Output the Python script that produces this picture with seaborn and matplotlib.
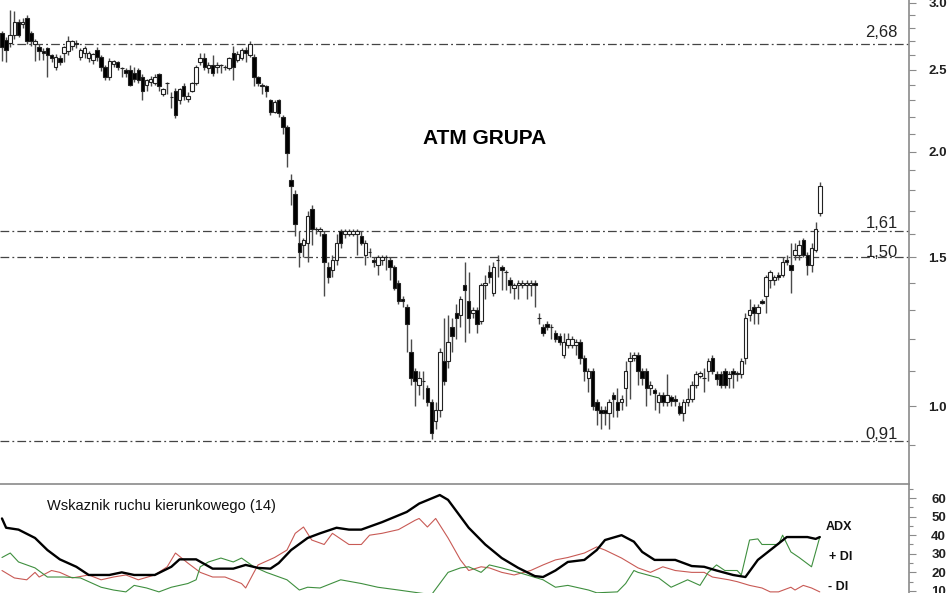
import matplotlib
matplotlib.use("Agg")
import matplotlib.pyplot as plt
from matplotlib.ticker import FixedLocator, NullFormatter, FormatStrFormatter
import numpy as np
import seaborn as sns

# ==============================
# DATA
# ==============================
opens = [2.76, 2.71, 2.69, 2.75, 2.85, 2.83, 2.88, 2.76, 2.68, 2.66,
         2.63, 2.65, 2.60, 2.52, 2.58, 2.62, 2.63, 2.67, 2.69, 2.59,
         2.62, 2.58, 2.57, 2.64, 2.59, 2.52, 2.45, 2.54, 2.55, 2.51,
         2.50, 2.50, 2.48, 2.50, 2.45, 2.40, 2.42, 2.41, 2.47, 2.34,
         2.41, 2.32, 2.36, 2.30, 2.39, 2.31, 2.36, 2.41, 2.55, 2.58,
         2.51, 2.53, 2.52, 2.53, 2.52, 2.51, 2.62, 2.57, 2.58, 2.64,
         2.60, 2.59, 2.45, 2.40, 2.39, 2.30, 2.23, 2.30, 2.20, 2.14,
         1.85, 1.78, 1.56, 1.55, 1.56, 1.71, 1.62, 1.61, 1.60, 1.46,
         1.45, 1.49, 1.61, 1.60, 1.60, 1.60, 1.60, 1.59, 1.51, 1.52,
         1.49, 1.47, 1.49, 1.50, 1.49, 1.46, 1.40, 1.34, 1.31, 1.16,
         1.10, 1.06, 1.07, 1.05, 1.01, 0.96, 0.99, 1.13, 1.13, 1.24,
         1.29, 1.28, 1.39, 1.33, 1.29, 1.30, 1.26, 1.39, 1.44, 1.36,
         1.49, 1.46, 1.44, 1.41, 1.38, 1.39, 1.39, 1.39, 1.39, 1.40,
         1.27, 1.24, 1.25, 1.24, 1.22, 1.21, 1.15, 1.18, 1.18, 1.18,
         1.19, 1.14, 1.08, 1.10, 1.01, 0.99, 0.99, 0.98, 1.03, 1.01,
         1.01, 1.05, 1.13, 1.14, 1.15, 1.10, 1.10, 1.05, 1.045, 1.01,
         1.03, 1.01, 1.025, 1.02, 1.00, 0.98, 1.01, 1.02, 1.06, 1.085,
         1.08, 1.10, 1.14, 1.09, 1.09, 1.10, 1.08, 1.10, 1.09, 1.09,
         1.14, 1.28, 1.31, 1.29, 1.33, 1.35, 1.41, 1.41, 1.43, 1.43,
         1.49, 1.47, 1.51, 1.51, 1.57, 1.51, 1.47, 1.53, 1.69]
highs = [2.78, 2.73, 2.94, 2.93, 2.87, 2.88, 2.90, 2.78, 2.72, 2.68,
         2.65, 2.66, 2.61, 2.61, 2.60, 2.67, 2.74, 2.71, 2.71, 2.65,
         2.67, 2.63, 2.62, 2.66, 2.60, 2.53, 2.58, 2.57, 2.56, 2.52,
         2.51, 2.53, 2.52, 2.51, 2.47, 2.44, 2.46, 2.47, 2.48, 2.38,
         2.42, 2.35, 2.38, 2.38, 2.41, 2.35, 2.42, 2.53, 2.62, 2.62,
         2.55, 2.60, 2.55, 2.54, 2.53, 2.59, 2.67, 2.63, 2.65, 2.66,
         2.70, 2.61, 2.46, 2.41, 2.40, 2.31, 2.30, 2.31, 2.21, 2.15,
         1.88, 1.80, 1.61, 1.58, 1.70, 1.73, 1.63, 1.63, 1.61, 1.48,
         1.51, 1.60, 1.62, 1.62, 1.62, 1.62, 1.62, 1.61, 1.57, 1.54,
         1.50, 1.51, 1.51, 1.51, 1.50, 1.47, 1.41, 1.35, 1.32, 1.20,
         1.11, 1.10, 1.10, 1.06, 1.02, 1.01, 1.17, 1.27, 1.28, 1.27,
         1.32, 1.35, 1.48, 1.44, 1.31, 1.31, 1.40, 1.43, 1.47, 1.48,
         1.51, 1.47, 1.45, 1.42, 1.40, 1.41, 1.41, 1.41, 1.41, 1.41,
         1.29, 1.25, 1.26, 1.25, 1.23, 1.22, 1.22, 1.22, 1.21, 1.20,
         1.20, 1.15, 1.11, 1.11, 1.02, 1.00, 1.00, 1.02, 1.04, 1.05,
         1.03, 1.13, 1.16, 1.16, 1.16, 1.11, 1.11, 1.07, 1.05, 1.04,
         1.04, 1.09, 1.03, 1.03, 1.01, 1.02, 1.05, 1.07, 1.10, 1.10,
         1.11, 1.14, 1.15, 1.10, 1.10, 1.11, 1.10, 1.11, 1.10, 1.14,
         1.29, 1.34, 1.32, 1.32, 1.34, 1.43, 1.45, 1.43, 1.44, 1.50,
         1.51, 1.56, 1.56, 1.57, 1.58, 1.52, 1.56, 1.65, 1.84]
lows = [2.56, 2.55, 2.66, 2.72, 2.73, 2.80, 2.68, 2.67, 2.56, 2.57,
        2.57, 2.45, 2.55, 2.50, 2.53, 2.55, 2.60, 2.64, 2.65, 2.57,
        2.58, 2.55, 2.54, 2.56, 2.49, 2.43, 2.43, 2.52, 2.50, 2.45,
        2.45, 2.39, 2.42, 2.41, 2.30, 2.36, 2.39, 2.40, 2.36, 2.33,
        2.34, 2.25, 2.19, 2.28, 2.30, 2.29, 2.35, 2.40, 2.53, 2.50,
        2.48, 2.46, 2.48, 2.48, 2.50, 2.50, 2.43, 2.55, 2.57, 2.55,
        2.59, 2.39, 2.39, 2.34, 2.32, 2.21, 2.22, 2.20, 2.10, 1.92,
        1.73, 1.59, 1.46, 1.50, 1.48, 1.55, 1.60, 1.59, 1.35, 1.40,
        1.42, 1.47, 1.54, 1.58, 1.59, 1.59, 1.51, 1.55, 1.47, 1.50,
        1.46, 1.43, 1.47, 1.45, 1.41, 1.37, 1.32, 1.31, 1.16, 1.06,
        1.00, 1.03, 1.02, 1.00, 0.915, 0.94, 0.97, 1.06, 1.11, 1.16,
        1.20, 1.24, 1.19, 1.22, 1.27, 1.22, 1.25, 1.34, 1.40, 1.35,
        1.42, 1.37, 1.37, 1.36, 1.34, 1.34, 1.38, 1.34, 1.35, 1.31,
        1.25, 1.21, 1.23, 1.20, 1.19, 1.18, 1.14, 1.17, 1.17, 1.15,
        1.12, 1.07, 1.04, 0.99, 0.95, 0.94, 0.95, 0.94, 0.97, 0.97,
        0.99, 1.00, 1.02, 1.13, 1.06, 1.06, 1.00, 1.03, 0.99, 0.98,
        1.00, 1.00, 1.00, 1.00, 0.975, 0.96, 1.00, 1.01, 1.05, 1.08,
        1.04, 1.07, 1.09, 1.06, 1.05, 1.05, 1.05, 1.05, 1.07, 1.08,
        1.12, 1.26, 1.25, 1.25, 1.32, 1.29, 1.38, 1.39, 1.41, 1.42,
        1.47, 1.36, 1.49, 1.49, 1.50, 1.43, 1.44, 1.52, 1.68]
closes = [2.66, 2.64, 2.75, 2.85, 2.75, 2.85, 2.70, 2.70, 2.70, 2.63,
          2.62, 2.60, 2.58, 2.59, 2.55, 2.66, 2.70, 2.70, 2.68, 2.64,
          2.65, 2.62, 2.61, 2.59, 2.52, 2.45, 2.56, 2.56, 2.52, 2.51,
          2.48, 2.40, 2.44, 2.43, 2.36, 2.43, 2.44, 2.45, 2.39, 2.37,
          2.41, 2.32, 2.21, 2.37, 2.33, 2.33, 2.41, 2.52, 2.58, 2.52,
          2.53, 2.48, 2.53, 2.53, 2.52, 2.58, 2.52, 2.61, 2.64, 2.62,
          2.68, 2.45, 2.41, 2.39, 2.36, 2.23, 2.29, 2.22, 2.14, 1.99,
          1.82, 1.64, 1.52, 1.57, 1.68, 1.62, 1.62, 1.62, 1.48, 1.42,
          1.49, 1.56, 1.56, 1.61, 1.61, 1.61, 1.61, 1.56, 1.56, 1.52,
          1.48, 1.50, 1.50, 1.50, 1.46, 1.38, 1.33, 1.33, 1.25, 1.08,
          1.07, 1.08, 1.07, 1.01, 0.93, 0.99, 1.16, 1.07, 1.19, 1.21,
          1.27, 1.34, 1.37, 1.27, 1.30, 1.25, 1.39, 1.40, 1.42, 1.46,
          1.49, 1.45, 1.44, 1.39, 1.39, 1.40, 1.40, 1.40, 1.40, 1.39,
          1.27, 1.22, 1.24, 1.24, 1.20, 1.19, 1.19, 1.20, 1.20, 1.19,
          1.14, 1.10, 1.10, 1.00, 0.99, 0.98, 0.98, 1.01, 1.02, 0.99,
          1.02, 1.10, 1.14, 1.15, 1.10, 1.08, 1.05, 1.06, 1.035, 1.03,
          1.01, 1.03, 1.015, 1.015, 0.98, 1.01, 1.02, 1.06, 1.09, 1.095,
          1.08, 1.13, 1.10, 1.075, 1.06, 1.06, 1.09, 1.09, 1.095, 1.13,
          1.27, 1.30, 1.29, 1.31, 1.325, 1.42, 1.44, 1.42, 1.42, 1.48,
          1.48, 1.45, 1.53, 1.55, 1.51, 1.47, 1.54, 1.62, 1.82]

levels = [2.68, 1.61, 1.50, 0.91]
level_labels = ["2,68", "1,61", "1,50", "0,91"]

# wskaznik ruchu kierunkowego (14) - punkty odczytane co kilka sesji
adx_idx = [0, 1, 4, 8, 11, 14, 18, 21, 26, 29, 32, 37, 41, 43, 47, 51, 56, 59, 62, 65,
           67, 70, 74, 77, 81, 84, 87, 92, 98, 101, 106, 108, 111, 113, 117, 121, 125, 129, 131, 134,
           137, 141, 144, 146, 150, 153, 155, 158, 163, 167, 170, 173, 177, 180, 183, 187, 190, 195, 197, 198]
adx_vals = [49, 44, 43, 38.5, 32, 27, 23, 18.6, 18.6, 20, 18.6, 18.6, 23, 27, 27, 22, 22, 24, 22.4, 22,
            25, 32, 38.5, 41, 44, 43, 43, 47, 52.5, 57, 61.6, 59, 50, 44, 35, 27.7, 22.4, 18, 17.5, 21,
            25.6, 26.7, 32, 37.4, 40, 36.5, 31, 26.7, 26.7, 23.4, 23, 21, 18.6, 17.5, 26.7, 33.7, 39, 39, 38, 39]
pdi_idx = [0, 2, 4, 8, 11, 15, 19, 24, 27, 30, 32, 35, 38, 41, 45, 47, 48, 50, 53, 56,
           58, 61, 64, 69, 72, 74, 77, 82, 87, 91, 96, 104, 108, 111, 113, 116, 118, 121, 125, 131,
           134, 137, 142, 144, 149, 151, 153, 154, 159, 162, 166, 169, 171, 173, 175, 178, 179, 181, 183, 184,
           188, 189, 191, 193, 196, 198]
pdi_vals = [28, 30.4, 25.6, 22.4, 17.5, 17.5, 17, 12, 10.5, 9.5, 13, 11.6, 9.5, 12, 14, 16, 23, 25.6, 27.7, 25.6,
            27.7, 23, 20, 16, 10.5, 12, 11.6, 16, 14, 12, 10.5, 8, 20, 22.4, 23, 20, 24, 22.4, 20, 16,
            12, 13, 10.5, 9, 9.5, 14, 21, 20, 17, 12, 16, 13, 20, 24, 21, 21, 18.6, 37.4, 38, 35,
            35, 40, 31, 28, 23, 39]
mdi_idx = [0, 3, 6, 8, 9, 12, 14, 17, 21, 24, 27, 30, 33, 37, 40, 42, 45, 48, 51, 54,
           58, 59, 61, 62, 66, 69, 71, 73, 75, 78, 80, 84, 87, 89, 92, 96, 100, 101, 103, 105,
           108, 111, 113, 116, 118, 121, 124, 128, 131, 134, 137, 141, 144, 146, 150, 154, 157, 160, 163, 167,
           170, 172, 176, 178, 181, 184, 186, 188, 191, 192, 194, 196, 198]
mdi_vals = [21, 17, 16, 20, 17.5, 21, 20, 17, 18.6, 16, 17.5, 18.6, 16, 18.6, 23, 30.4, 25, 20, 17.5, 17.5,
            14, 11.6, 20, 24, 28, 32, 41, 44.4, 37.4, 35, 41, 35, 35, 40, 41, 43, 48, 49, 44.4, 49,
            38.5, 26.7, 21, 23, 22.4, 20, 18.6, 21, 24, 26.7, 28, 30.4, 33.7, 32, 27.7, 22.4, 20, 23, 21, 20,
            20, 17.5, 16, 15, 13, 11.6, 9.5, 9.5, 12, 10.5, 13, 11.6, 9.5]

price_major = [1.0, 1.5, 2.0, 2.5, 3.0]
price_minor = [0.9, 1.1, 1.2, 1.3, 1.4, 1.6, 1.7, 1.8, 1.9,
               2.1, 2.2, 2.3, 2.4, 2.6, 2.7, 2.8, 2.9]
ind_major = [10, 20, 30, 40, 50, 60]
ind_minor = [15, 25, 35, 45, 55, 65]

# ==============================
# STYLE
# ==============================
sns.set_style("white")
plt.rcParams['font.family'] = ['Liberation Sans', 'DejaVu Sans']

fig = plt.figure(figsize=(9.48, 5.93), dpi=100)
ax = fig.add_axes([0, 109 / 593, 909 / 948, 484 / 593])
ax2 = fig.add_axes([0, 0, 909 / 948, 108 / 593], sharex=ax)

axis_grey = '#8a8a8a'

# ==============================
# 1. SWIECE
# ==============================
o = np.array(opens)
h = np.array(highs)
l = np.array(lows)
c = np.array(closes)
x = np.arange(len(c))
up = c >= o

ax.vlines(x, l, h, color='#4a4a4a', linewidth=1.0, zorder=2)
bottoms = np.minimum(o, c)
heights = np.abs(c - o)
ax.bar(x, heights, bottom=bottoms, width=0.85,
       color=np.where(up, 'white', 'black'), edgecolor='#222222',
       linewidth=0.8, zorder=3)

ax.set_yscale('log')
ax.set_ylim(0.8086, 3.023)
ax.set_xlim(-0.48, 219.6)

# poziomy wsparcia / oporu
label_offsets = [7, 3, 0, 2]
for lvl, txt, off in zip(levels, level_labels, label_offsets):
    ax.axhline(lvl, color='#444444', linewidth=0.9, dashes=(7, 2.5, 1.5, 2.5), zorder=1)
    ax.annotate(txt, xy=(898 / 909, lvl), xycoords=ax.get_yaxis_transform(),
                xytext=(0, off), textcoords='offset pixels',
                ha='right', va='baseline', fontsize=12, color='#222222')

ax.text(485 / 909, (484 - 139) / 484, "ATM GRUPA", transform=ax.transAxes,
        ha='center', va='center', fontsize=15, fontweight='bold', color='black')

ax.yaxis.tick_right()
ax.yaxis.set_major_locator(FixedLocator(price_major))
ax.yaxis.set_minor_locator(FixedLocator(price_minor))
ax.yaxis.set_major_formatter(FormatStrFormatter('%.1f'))
ax.yaxis.set_minor_formatter(NullFormatter())
ax.tick_params(axis='y', which='major', direction='out', length=5, width=0.8,
               color=axis_grey, pad=9, labelsize=9.5, labelcolor='#202020')
ax.tick_params(axis='y', which='minor', direction='out', length=4, width=0.8,
               color=axis_grey)
for lab in ax.get_yticklabels():
    lab.set_fontweight('bold')
ax.tick_params(axis='x', which='both', bottom=False, labelbottom=False)

for side in ['left', 'top']:
    ax.spines[side].set_visible(False)
for side in ['right', 'bottom']:
    ax.spines[side].set_color(axis_grey)
    ax.spines[side].set_linewidth(1.2)

# ==============================
# 2. ADX / +DI / -DI
# ==============================
sns.lineplot(x=mdi_idx, y=mdi_vals, ax=ax2, color='#c85a55', linewidth=0.8, estimator=None)
sns.lineplot(x=pdi_idx, y=pdi_vals, ax=ax2, color='#3f8f3f', linewidth=0.8, estimator=None)
sns.lineplot(x=adx_idx, y=adx_vals, ax=ax2, color='black', linewidth=1.7, estimator=None)

ax2.set_ylim(8.9, 67)
ax2.set_xlim(-0.48, 219.6)
ax2.set_xlabel("")
ax2.set_ylabel("")

ax2.text(47 / 909, (593 - 506) / 108, "Wskaznik ruchu kierunkowego (14)",
         transform=ax2.transAxes, ha='left', va='center', fontsize=10.5, color='#111111')
ax2.text(199.5, 44.4, "ADX", ha='left', va='center', fontsize=9, fontweight='bold', color='#111111')
ax2.text(200.3, 28.3, "+ DI", ha='left', va='center', fontsize=9, fontweight='bold', color='#111111')
ax2.text(200.0, 12.2, "- DI", ha='left', va='center', fontsize=9, fontweight='bold', color='#111111')

ax2.yaxis.tick_right()
ax2.yaxis.set_major_locator(FixedLocator(ind_major))
ax2.yaxis.set_minor_locator(FixedLocator(ind_minor))
ax2.yaxis.set_minor_formatter(NullFormatter())
ax2.tick_params(axis='y', which='major', direction='out', length=5, width=0.8,
                color=axis_grey, pad=11, labelsize=9.5, labelcolor='#202020')
ax2.tick_params(axis='y', which='minor', direction='out', length=3, width=0.8,
                color=axis_grey)
for lab in ax2.get_yticklabels():
    lab.set_fontweight('bold')
ax2.tick_params(axis='x', which='both', bottom=False, labelbottom=False)

for side in ['left', 'top', 'bottom']:
    ax2.spines[side].set_visible(False)
ax2.spines['right'].set_color(axis_grey)
ax2.spines['right'].set_linewidth(1.2)

fig.savefig("out.png", dpi=100)
